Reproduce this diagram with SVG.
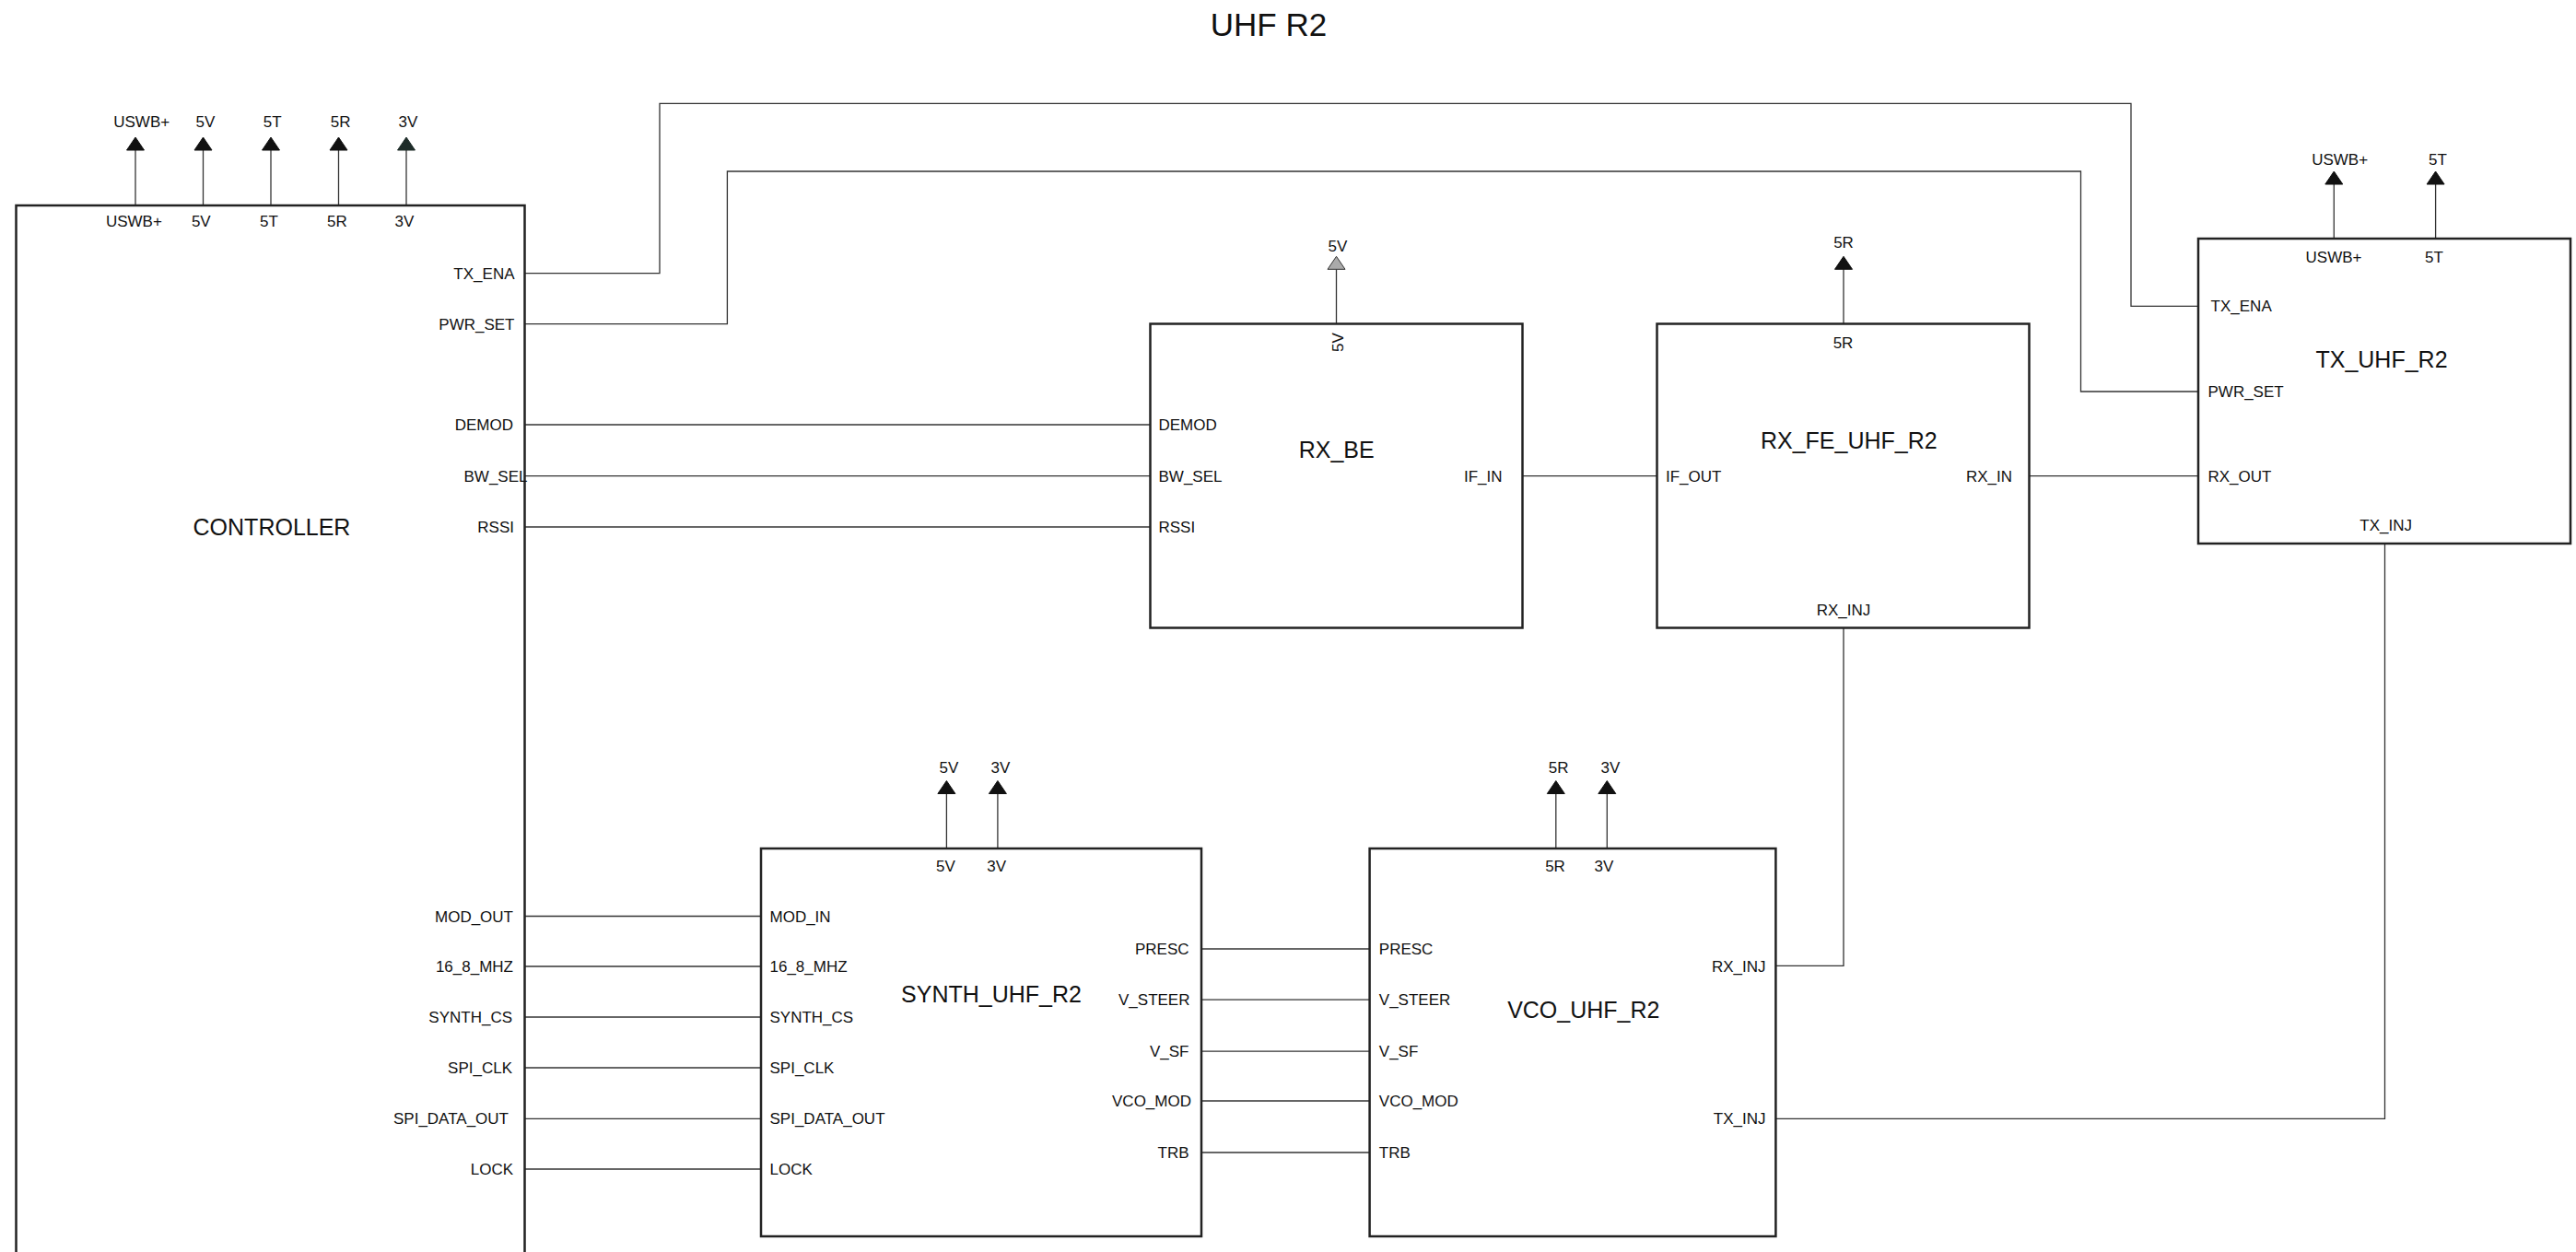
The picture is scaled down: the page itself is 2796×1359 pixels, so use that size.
<svg xmlns="http://www.w3.org/2000/svg" xmlns:xlink="http://www.w3.org/1999/xlink" width="2796" height="1359" viewBox="0 0 2796 1359">
<style>
text{font-family:"Liberation Sans",Arial,Helvetica,sans-serif;fill:#111}
.p{font-size:17px}
.e{text-anchor:end}
.m{text-anchor:middle}
.t{font-size:25px;text-anchor:middle}
.box{fill:#fff;stroke:#222;stroke-width:2.5}
.w{fill:none;stroke:#333;stroke-width:1.3}
.pw{stroke:#333;stroke-width:1.3}
.ah{fill:#111;stroke:#111;stroke-width:1}
.ahg{fill:#aaa;stroke:#333;stroke-width:1}
</style>
<defs>
<path id="arr" d="M0,0 L-9.5,14 L9.5,14 Z"/>
</defs>
<rect width="2796" height="1359" fill="#fff"/>
<text x="1377" y="39" class="m" style="font-size:35px">UHF R2</text>

<g id="connectors">
<polyline class="w" points="569.5,296.7 716,296.7 716,112.3 2313,112.3 2313,332.3 2386,332.3"/>
<polyline class="w" points="569.5,351.7 789.4,351.7 789.4,186 2258.5,186 2258.5,425 2386,425"/>
<line class="w" x1="569.5" y1="461" x2="1248.5" y2="461"/>
<line class="w" x1="569.5" y1="516.6" x2="1248.5" y2="516.6"/>
<line class="w" x1="569.5" y1="572" x2="1248.5" y2="572"/>
<line class="w" x1="1652.5" y1="516.6" x2="1798.5" y2="516.6"/>
<line class="w" x1="2202.5" y1="516.6" x2="2386" y2="516.6"/>
<polyline class="w" points="2001,681.5 2001,1048.4 1927.4,1048.4"/>
<polyline class="w" points="2588.5,590 2588.5,1214.3 1927.4,1214.3"/>
<line class="w" x1="569.5" y1="994.5" x2="826" y2="994.5"/>
<line class="w" x1="569.5" y1="1049" x2="826" y2="1049"/>
<line class="w" x1="569.5" y1="1104" x2="826" y2="1104"/>
<line class="w" x1="569.5" y1="1159" x2="826" y2="1159"/>
<line class="w" x1="569.5" y1="1214.3" x2="826" y2="1214.3"/>
<line class="w" x1="569.5" y1="1269" x2="826" y2="1269"/>
<line class="w" x1="1304" y1="1030" x2="1486.6" y2="1030"/>
<line class="w" x1="1304" y1="1085.2" x2="1486.6" y2="1085.2"/>
<line class="w" x1="1304" y1="1141.2" x2="1486.6" y2="1141.2"/>
<line class="w" x1="1304" y1="1195" x2="1486.6" y2="1195"/>
<line class="w" x1="1304" y1="1251" x2="1486.6" y2="1251"/>
</g>

<g id="controller">
<line class="pw" x1="147" y1="223" x2="147" y2="163"/>
<line class="pw" x1="220.5" y1="223" x2="220.5" y2="163"/>
<line class="pw" x1="294" y1="223" x2="294" y2="163"/>
<line class="pw" x1="367.5" y1="223" x2="367.5" y2="163"/>
<line class="pw" x1="441" y1="223" x2="441" y2="163"/>
<use xlink:href="#arr" href="#arr" x="147" y="149" class="ah"/>
<use xlink:href="#arr" href="#arr" x="220.5" y="149" class="ah"/>
<use xlink:href="#arr" href="#arr" x="294" y="149" class="ah"/>
<use xlink:href="#arr" href="#arr" x="367.5" y="149" class="ah"/>
<use xlink:href="#arr" href="#arr" x="441" y="149" style="fill:#1e2c29;stroke:#1e2c29;stroke-width:1"/>
<text class="p m" x="153.7" y="138">USWB+</text>
<text class="p m" x="222.9" y="138">5V</text>
<text class="p m" x="295.6" y="138">5T</text>
<text class="p m" x="369.7" y="138">5R</text>
<text class="p m" x="443" y="138">3V</text>
<rect class="box" x="17.5" y="223" width="552" height="1160"/>
<text class="p m" x="145.4" y="245.5">USWB+</text>
<text class="p m" x="218.3" y="245.5">5V</text>
<text class="p m" x="292" y="245.5">5T</text>
<text class="p m" x="365.9" y="245.5">5R</text>
<text class="p m" x="439" y="245.5">3V</text>
<text class="t" x="295" y="581">CONTROLLER</text>
<text class="p e" x="558.5" y="302.5">TX_ENA</text>
<text class="p e" x="558.5" y="357.5">PWR_SET</text>
<text class="p e" x="557" y="467">DEMOD</text>
<text class="p" x="503.5" y="522.5">BW_SEL</text>
<text class="p e" x="558" y="578">RSSI</text>
<text class="p e" x="557" y="1000.5">MOD_OUT</text>
<text class="p e" x="557" y="1055">16_8_MHZ</text>
<text class="p e" x="556" y="1110">SYNTH_CS</text>
<text class="p e" x="556" y="1165">SPI_CLK</text>
<text class="p e" x="552" y="1220.3">SPI_DATA_OUT</text>
<text class="p e" x="557" y="1275">LOCK</text>
</g>

<g id="rx_be">
<line class="pw" x1="1450.5" y1="351.5" x2="1450.5" y2="292.3"/>
<use xlink:href="#arr" href="#arr" x="1450.5" y="278.3" class="ahg"/>
<text class="p m" x="1452" y="272.7">5V</text>
<rect class="box" x="1248.5" y="351.5" width="404" height="330"/>
<text class="p m" x="1457.5" y="371.5" transform="rotate(-90 1457.5 371.5)">5V</text>
<text class="t" x="1450.7" y="497">RX_BE</text>
<text class="p" x="1257.5" y="467">DEMOD</text>
<text class="p" x="1257.5" y="522.5">BW_SEL</text>
<text class="p" x="1257.5" y="578">RSSI</text>
<text class="p e" x="1630.5" y="522.5">IF_IN</text>
</g>

<g id="rx_fe_uhf_r2">
<line class="pw" x1="2001" y1="351.5" x2="2001" y2="292.3"/>
<use xlink:href="#arr" href="#arr" x="2001" y="278.3" class="ah"/>
<text class="p m" x="2001" y="269.3">5R</text>
<rect class="box" x="1798.5" y="351.5" width="404" height="330"/>
<text class="p m" x="2000.5" y="378.3">5R</text>
<text class="t" x="2006.8" y="487">RX_FE_UHF_R2</text>
<text class="p" x="1808" y="522.5">IF_OUT</text>
<text class="p e" x="2184" y="522.5">RX_IN</text>
<text class="p m" x="2001" y="667.7">RX_INJ</text>
</g>

<g id="tx_uhf_r2">
<line class="pw" x1="2533.3" y1="259" x2="2533.3" y2="200"/>
<line class="pw" x1="2643.6" y1="259" x2="2643.6" y2="200"/>
<use xlink:href="#arr" href="#arr" x="2533.3" y="186" class="ah"/>
<use xlink:href="#arr" href="#arr" x="2643.6" y="186" class="ah"/>
<text class="p m" x="2539.6" y="179">USWB+</text>
<text class="p m" x="2646" y="179">5T</text>
<rect class="box" x="2386" y="259" width="404" height="331"/>
<text class="p m" x="2533" y="285.3">USWB+</text>
<text class="p m" x="2642" y="285.3">5T</text>
<text class="t" x="2585" y="399">TX_UHF_R2</text>
<text class="p" x="2399.6" y="338.3">TX_ENA</text>
<text class="p" x="2396.5" y="431">PWR_SET</text>
<text class="p" x="2396.5" y="522.7">RX_OUT</text>
<text class="p m" x="2589.6" y="575.7">TX_INJ</text>
</g>

<g id="synth_uhf_r2">
<line class="pw" x1="1027.4" y1="921" x2="1027.4" y2="861.3"/>
<line class="pw" x1="1082.9" y1="921" x2="1082.9" y2="861.3"/>
<use xlink:href="#arr" href="#arr" x="1027.4" y="847.5" class="ah"/>
<use xlink:href="#arr" href="#arr" x="1082.9" y="847.5" class="ah"/>
<text class="p m" x="1030" y="838.5">5V</text>
<text class="p m" x="1086" y="838.5">3V</text>
<rect class="box" x="826" y="921" width="478" height="421"/>
<text class="p m" x="1026.5" y="946.3">5V</text>
<text class="p m" x="1081.7" y="946.3">3V</text>
<text class="t" x="1076" y="1088">SYNTH_UHF_R2</text>
<text class="p" x="835.5" y="1000.5">MOD_IN</text>
<text class="p" x="835.5" y="1055">16_8_MHZ</text>
<text class="p" x="835.5" y="1110">SYNTH_CS</text>
<text class="p" x="835.5" y="1165">SPI_CLK</text>
<text class="p" x="835.5" y="1220.3">SPI_DATA_OUT</text>
<text class="p" x="835.5" y="1275">LOCK</text>
<text class="p e" x="1290.5" y="1036">PRESC</text>
<text class="p e" x="1291.5" y="1091.2">V_STEER</text>
<text class="p e" x="1290.5" y="1147.2">V_SF</text>
<text class="p e" x="1293" y="1201">VCO_MOD</text>
<text class="p e" x="1290.5" y="1257">TRB</text>
</g>

<g id="vco_uhf_r2">
<line class="pw" x1="1688.8" y1="921" x2="1688.8" y2="861.3"/>
<line class="pw" x1="1744.3" y1="921" x2="1744.3" y2="861.3"/>
<use xlink:href="#arr" href="#arr" x="1688.8" y="847.5" class="ah"/>
<use xlink:href="#arr" href="#arr" x="1744.3" y="847.5" class="ah"/>
<text class="p m" x="1691.6" y="838.5">5R</text>
<text class="p m" x="1748" y="838.5">3V</text>
<rect class="box" x="1486.6" y="921" width="440.8" height="421"/>
<text class="p m" x="1688" y="946.3">5R</text>
<text class="p m" x="1741" y="946.3">3V</text>
<text class="t" x="1718.8" y="1105">VCO_UHF_R2</text>
<text class="p" x="1496.8" y="1036">PRESC</text>
<text class="p" x="1496.8" y="1091.2">V_STEER</text>
<text class="p" x="1496.8" y="1147.2">V_SF</text>
<text class="p" x="1496.8" y="1201">VCO_MOD</text>
<text class="p" x="1496.8" y="1257">TRB</text>
<text class="p e" x="1916.5" y="1054.5">RX_INJ</text>
<text class="p e" x="1916.5" y="1220.3">TX_INJ</text>
</g>
</svg>
